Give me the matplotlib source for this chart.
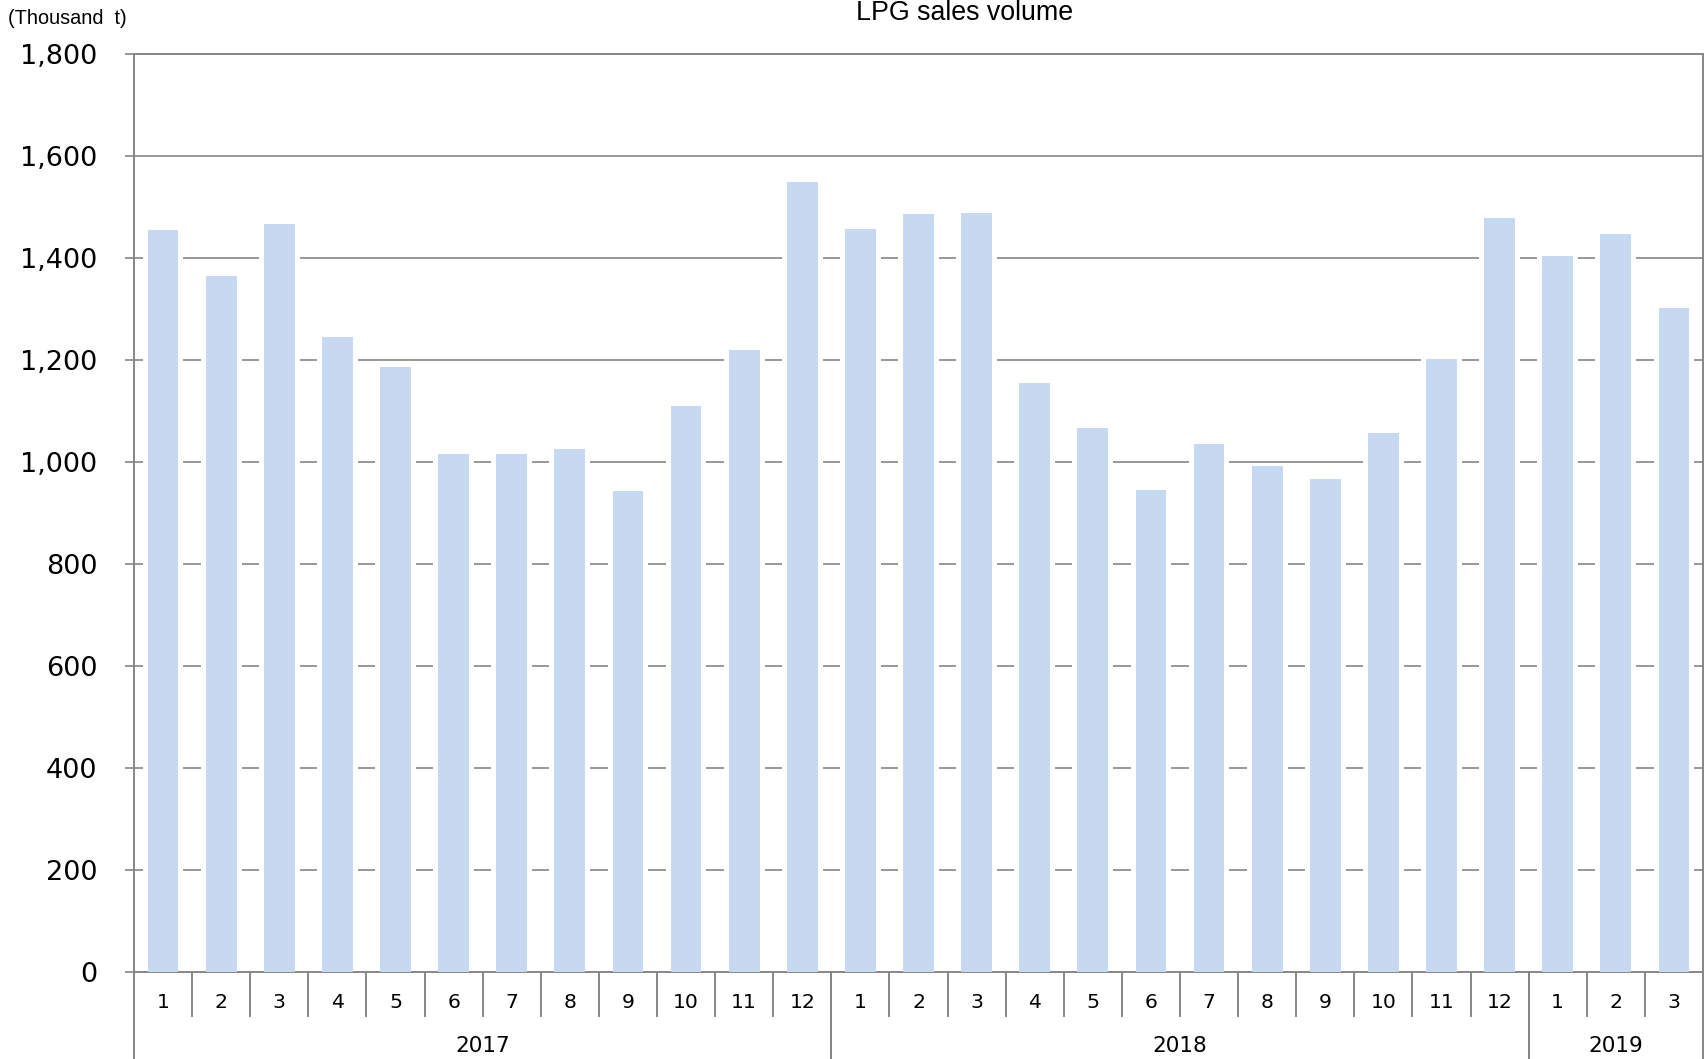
import matplotlib
matplotlib.use('Agg')
import matplotlib.pyplot as plt
import matplotlib.transforms as mtransforms

months = [1, 2, 3, 4, 5, 6, 7, 8, 9, 10, 11, 12,
          1, 2, 3, 4, 5, 6, 7, 8, 9, 10, 11, 12,
          1, 2, 3]
years = ['2017', '2018', '2019']
year_counts = [12, 12, 3]
sales = [1454, 1365, 1467, 1245, 1186, 1015, 1015, 1026, 943, 1109, 1220, 1550,
         1457, 1487, 1489, 1154, 1066, 945, 1036, 992, 966, 1056, 1201, 1479,
         1404, 1447, 1302]
yticks = [0, 200, 400, 600, 800, 1000, 1200, 1400, 1600, 1800]

W, H = 1704, 1059
fig = plt.figure(figsize=(W / 100, H / 100), dpi=100)
left, right, top, bottom = 134, 1703, 54, 972
ax = fig.add_axes([left / W, (H - bottom) / H, (right - left) / W, (bottom - top) / H])

grey = '#868686'
bar_col = '#C6D9F0'
x = list(range(len(sales)))

ax.set_xlim(-0.5, len(sales) - 0.5)
ax.set_ylim(0, 1800)
ax.set_yticks(yticks)
ax.set_yticklabels([f'{v:,}' for v in yticks], fontsize=19.5, family='DejaVu Sans')
ax.tick_params(axis='y', length=6.5, width=1.2, color=grey, pad=20)
ax.set_xticks([])
for y in yticks[1:-1]:
    ax.axhline(y, color=grey, lw=1.2, zorder=1)

# white halo around bars cuts the grid lines, as in the original
ax.bar(x, sales, width=0.70, color='white', zorder=2)
ax.bar(x, sales, width=0.53, color=bar_col, zorder=3)

for s in ax.spines.values():
    s.set_color(grey)
    s.set_linewidth(1.4)

trans = mtransforms.blended_transform_factory(ax.transData, ax.transAxes)
ax_h = bottom - top
month_len = 44 / ax_h
year_len = (H - bottom) / ax_h

# month separators and labels
for i, m in enumerate(months):
    ax.text(i, -31 / ax_h, str(m), transform=trans, ha='center', va='center',
            fontsize=14.7, family='DejaVu Sans')
for b in range(1, len(months)):
    ax.plot([b - 0.5, b - 0.5], [0, -month_len], transform=trans, color=grey,
            lw=1.4, clip_on=False)

# year separators and labels
start = 0
for yr, n in zip(years, year_counts):
    ax.text(start + (n - 1) / 2, -74 / ax_h, yr, transform=trans, ha='center',
            va='center', fontsize=15.5, family='DejaVu Sans')
    for b in (start, start + n):
        ax.plot([b - 0.5, b - 0.5], [0, -year_len], transform=trans, color=grey,
                lw=1.4, clip_on=False)
    start += n

fig.text(965 / W, 1 - 13 / H, 'LPG sales volume', ha='center', va='center',
         fontsize=19.3, family='Liberation Sans')
fig.text(8 / W, 1 - 18 / H, '(Thousand  t)', ha='left', va='center',
         fontsize=14.3, family='Liberation Sans')

fig.savefig('out.png', dpi=100)
